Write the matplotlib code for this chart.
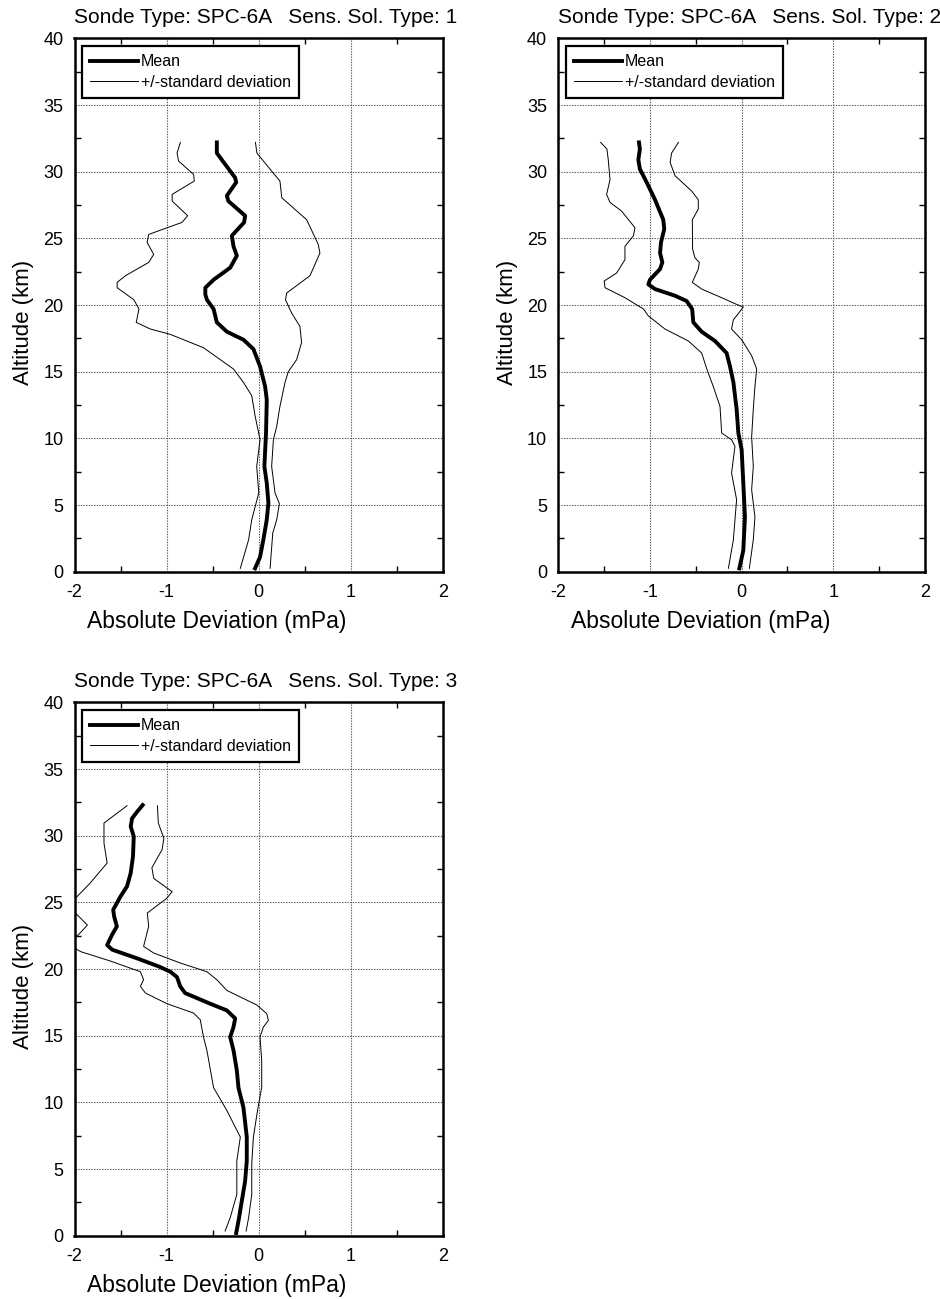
import matplotlib
matplotlib.use("Agg")
import matplotlib.pyplot as plt
from matplotlib.ticker import MultipleLocator

plt.rcParams['font.family'] = ['Liberation Sans', 'DejaVu Sans']

# ---- Sensing solution type 1 ----
alt1_mean = [32.2, 31.4, 30.7, 29.55, 29.2, 28.2, 27.8, 26.7, 26.2, 25.2, 24.4, 23.7, 22.8, 21.9,
             21.3, 20.8, 20.4, 19.7, 18.7, 18.0, 17.4, 16.7, 15.4, 13.9, 12.9, 10.4, 7.9, 6.65,
             5.15, 3.9, 2.4, 1.1, 0.25]
dev1_mean = [-0.455, -0.455, -0.38, -0.256, -0.245, -0.346, -0.33, -0.148, -0.159, -0.292, -0.274,
             -0.238, -0.31, -0.49, -0.58, -0.58, -0.563, -0.49, -0.455, -0.346, -0.166, -0.058,
             0.014, 0.069, 0.087, 0.079, 0.061, 0.087, 0.105, 0.087, 0.05, 0.014, -0.04]
alt1_low = [32.2, 31.4, 30.8, 29.8, 29.3, 28.3, 27.8, 26.7, 26.2, 25.3, 24.7, 23.8, 23.2, 22.2,
            21.7, 21.3, 20.4, 19.7, 18.7, 18.2, 17.8, 16.8, 15.2, 14.2, 13.2, 11.7, 9.9, 7.9,
            5.9, 3.9, 2.4, 0.25]
dev1_low = [-0.851, -0.887, -0.87, -0.707, -0.70, -0.94, -0.94, -0.772, -0.833, -1.194, -1.212,
            -1.14, -1.194, -1.447, -1.537, -1.537, -1.356, -1.30, -1.33, -1.176, -0.96, -0.60,
            -0.274, -0.166, -0.076, -0.04, 0.014, -0.022, 0.0, -0.076, -0.11, -0.20]
alt1_high = [32.2, 31.4, 30.8, 29.3, 28.05, 26.4, 24.55, 23.9, 22.2, 20.9, 20.4, 19.4, 18.4, 17.2,
             15.9, 15.0, 14.2, 12.4, 10.9, 9.9, 7.9, 5.9, 5.1, 3.9, 2.9, 0.25]
dev1_high = [-0.036, -0.02, 0.05, 0.23, 0.25, 0.52, 0.646, 0.664, 0.556, 0.303, 0.290, 0.357,
             0.447, 0.465, 0.411, 0.321, 0.285, 0.23, 0.195, 0.159, 0.14, 0.177, 0.224, 0.195,
             0.152, 0.123]

# ---- Sensing solution type 2 ----
alt2_mean = [32.2, 31.7, 30.9, 30.2, 29.2, 27.9, 26.4, 25.7, 24.7, 23.9, 23.2, 22.7, 21.9, 21.55,
             21.2, 20.7, 20.3, 19.7, 18.7, 18.0, 17.3, 16.4, 15.4, 14.2, 12.2, 10.4, 9.15, 6.65,
             4.1, 1.6, 0.25]
dev2_mean = [-1.12, -1.11, -1.127, -1.11, -1.036, -0.945, -0.855, -0.844, -0.88, -0.89, -0.865,
             -0.89, -1.0, -1.018, -0.945, -0.727, -0.6, -0.54, -0.527, -0.436, -0.29, -0.164,
             -0.127, -0.09, -0.055, -0.036, 0.0, 0.018, 0.036, 0.018, -0.025]
alt2_low = [32.2, 31.7, 30.9, 29.4, 28.3, 27.7, 27.05, 25.8, 25.2, 24.4, 23.4, 22.4, 21.8, 21.3,
            20.55, 19.7, 19.2, 18.2, 17.3, 16.4, 15.2, 13.9, 12.4, 10.4, 9.9, 9.4, 7.4, 5.4,
            3.9, 2.4, 0.25]
dev2_low = [-1.538, -1.47, -1.455, -1.436, -1.473, -1.436, -1.31, -1.164, -1.18, -1.273, -1.273,
            -1.364, -1.5, -1.49, -1.273, -1.07, -1.02, -0.836, -0.58, -0.436, -0.38, -0.31,
            -0.236, -0.218, -0.11, -0.073, -0.11, -0.055, -0.073, -0.09, -0.145]
alt2_high = [32.2, 31.4, 30.7, 29.7, 28.55, 27.9, 27.2, 26.4, 24.2, 23.55, 23.2, 22.7, 21.7, 21.2,
             20.55, 20.05, 19.85, 19.2, 18.9, 18.2, 17.4, 16.2, 15.2, 13.9, 12.2, 10.1, 7.9,
             6.15, 4.1, 2.4, 0.25]
dev2_high = [-0.69, -0.764, -0.78, -0.727, -0.545, -0.473, -0.473, -0.538, -0.535, -0.51, -0.462,
             -0.473, -0.538, -0.436, -0.218, -0.055, 0.018, -0.055, -0.09, -0.11, 0.0, 0.109,
             0.164, 0.145, 0.127, 0.109, 0.127, 0.109, 0.145, 0.127, 0.084]

# ---- Sensing solution type 3 ----
alt3_mean = [32.3, 31.8, 31.3, 30.7, 29.95, 28.45, 27.2, 26.2, 25.45, 24.45, 23.95, 23.2, 22.6,
             21.8, 21.45, 20.8, 20.2, 19.8, 19.4, 18.7, 18.2, 17.4, 16.9, 16.3, 15.65, 14.9,
             13.9, 12.4, 11.1, 9.6, 7.4, 5.6, 4.1, 2.6, 1.1, 0.2]
dev3_mean = [-1.26, -1.32, -1.375, -1.39, -1.357, -1.365, -1.39, -1.43, -1.5, -1.58, -1.57, -1.54,
             -1.59, -1.646, -1.59, -1.32, -1.087, -0.96, -0.888, -0.852, -0.8, -0.527, -0.347,
             -0.256, -0.274, -0.31, -0.274, -0.238, -0.22, -0.166, -0.13, -0.13, -0.148,
             -0.184, -0.22, -0.245]
alt3_low = [32.25, 30.95, 29.45, 27.95, 26.45, 25.45, 25.05, 24.2, 23.3, 22.7, 22.3, 21.8, 21.3,
            20.6, 19.8, 19.2, 18.7, 18.2, 17.4, 16.7, 16.2, 14.9, 13.9, 11.1, 9.4, 7.4, 5.6,
            3.1, 1.35, 0.35]
dev3_low = [-1.43, -1.68, -1.68, -1.646, -1.83, -1.97, -2.04, -1.99, -1.86, -1.94, -2.0, -2.06,
            -1.93, -1.61, -1.285, -1.25, -1.285, -1.23, -0.996, -0.708, -0.635, -0.6, -0.563,
            -0.49, -0.347, -0.2, -0.238, -0.238, -0.31, -0.365]
alt3_high = [32.25, 30.95, 29.8, 28.95, 27.6, 26.8, 25.8, 25.3, 24.2, 23.2, 21.7, 21.2, 20.45,
             19.8, 19.2, 18.4, 17.3, 16.65, 16.15, 15.65, 14.9, 13.15, 11.15, 9.9, 9.1, 7.4,
             5.4, 3.1, 1.35, 0.35]
dev3_high = [-1.10, -1.09, -1.03, -1.05, -1.16, -1.14, -0.94, -1.0, -1.21, -1.195, -1.25, -1.14,
             -0.85, -0.563, -0.455, -0.347, -0.02, 0.087, 0.105, 0.05, 0.014, 0.032, 0.032, 0.0,
             -0.02, -0.058, -0.076, -0.076, -0.11, -0.137]

sonde_type = "SPC-6A"
solution_types = ["1", "2", "3"]
x_ticks = [-2, -1, 0, 1, 2]
y_ticks = [0, 5, 10, 15, 20, 25, 30, 35, 40]

panels = [
    (alt1_mean, dev1_mean, alt1_low, dev1_low, alt1_high, dev1_high),
    (alt2_mean, dev2_mean, alt2_low, dev2_low, alt2_high, dev2_high),
    (alt3_mean, dev3_mean, alt3_low, dev3_low, alt3_high, dev3_high),
]

W, H = 940, 1299
fig = plt.figure(figsize=(W / 100, H / 100), dpi=100)

# axes boxes in pixel coordinates: left, top, right, bottom
boxes = [(74.5, 38.4, 443.0, 571.7), (558.3, 38.4, 925.0, 571.7), (74.5, 702.4, 443.0, 1235.7)]

for (l, t, r, b), sol, data in zip(boxes, solution_types, panels):
    ax = fig.add_axes([l / W, 1 - b / H, (r - l) / W, (b - t) / H])
    am, dm, alo, dlo, ahi, dhi = data
    ax.plot(dm, am, color='black', lw=2.8, solid_joinstyle='round', label='Mean', zorder=4)
    ax.plot(dlo, alo, color='black', lw=0.7, label='+/-standard deviation', zorder=3)
    ax.plot(dhi, ahi, color='black', lw=0.7, zorder=3)

    ax.set_xlim(-2, 2)
    ax.set_ylim(0, 40)
    ax.set_xticks(x_ticks)
    ax.set_xticklabels([str(v) for v in x_ticks])
    ax.set_yticks(y_ticks)
    ax.xaxis.set_minor_locator(MultipleLocator(0.5))
    ax.yaxis.set_minor_locator(MultipleLocator(2.5))
    ax.tick_params(which='both', direction='in', top=True, right=True, labelsize=13,
                   width=1.0, color='black')
    ax.tick_params(axis='x', which='major', length=0, pad=9)
    ax.tick_params(axis='y', which='major', length=0, pad=8)
    ax.tick_params(which='minor', length=4)
    ax.grid(True, which='major', color='#555555', linestyle=(0, (1.2, 1.2)), linewidth=0.8)
    for sp in ax.spines.values():
        sp.set_linewidth(1.8)

    ax.set_xlabel('Absolute Deviation (mPa)', fontsize=16.5)
    ax.xaxis.set_label_coords(0.387, -0.071)
    ax.set_ylabel('Altitude (km)', fontsize=16, va='top')
    ax.yaxis.set_label_coords(-0.168, 0.467)
    ax.set_title(f'Sonde Type: {sonde_type}   Sens. Sol. Type: {sol}', fontsize=15,
                 loc='left', pad=11)

    leg = ax.legend(loc='upper left', fontsize=11.5, frameon=True, fancybox=False,
                    handlelength=3.0, handletextpad=0.15, borderpad=0.5, labelspacing=0.35,
                    borderaxespad=0.5)
    leg.get_frame().set_edgecolor('black')
    leg.get_frame().set_linewidth(1.6)
    leg.get_frame().set_alpha(1)

fig.savefig('out.png', dpi=100)
